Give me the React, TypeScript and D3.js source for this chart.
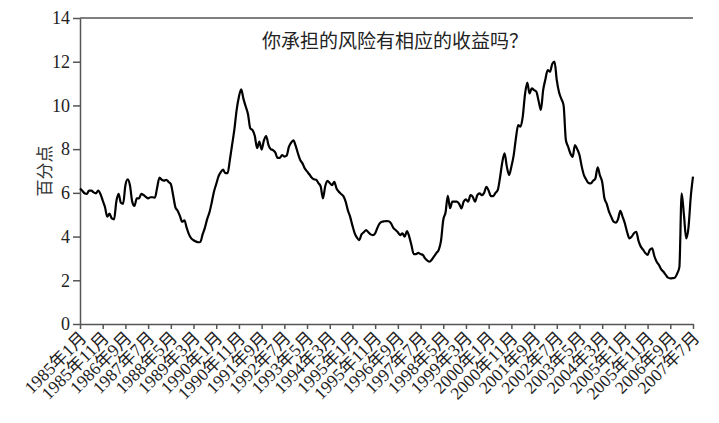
import { useEffect, useRef } from 'react';
import * as d3 from 'd3';

// monthly values, 1985年1月 .. 2007年7月 (percentage points)
const startYear = 1985;
const spread = [
  // 1985
  6.2, 6.1, 5.98, 5.95, 6.1, 6.1, 6.02, 5.98, 6.1, 5.95, 5.65, 5.35,
  // 1986
  4.91, 5.05, 4.83, 4.79, 5.6, 5.95, 5.55, 5.5, 6.35, 6.62, 6.35, 5.6,
  // 1987
  5.4, 5.75, 5.75, 5.95, 5.9, 5.82, 5.75, 5.8, 5.8, 5.78, 6.25, 6.7,
  // 1988
  6.6, 6.56, 6.6, 6.5, 6.4, 5.9, 5.35, 5.18, 4.95, 4.68, 4.74, 4.4,
  // 1989
  4.1, 3.92, 3.83, 3.78, 3.74, 3.75, 4.1, 4.4, 4.8, 5.1, 5.55, 6.05,
  // 1990
  6.4, 6.75, 6.95, 7.06, 6.9, 6.9, 7.5, 8.2, 8.9, 9.8, 10.4, 10.74,
  // 1991
  10.3, 9.95, 9.6, 8.95, 8.87, 8.6, 8.05, 8.34, 7.98, 8.4, 8.6, 8.2,
  // 1992
  8.0, 7.96, 7.85, 7.6, 7.6, 7.73, 7.66, 7.7, 8.1, 8.3, 8.4, 8.15,
  // 1993
  7.8, 7.5, 7.35, 7.12, 6.98, 6.85, 6.7, 6.62, 6.6, 6.45, 6.3, 5.75,
  // 1994
  6.3, 6.55, 6.45, 6.35, 6.5, 6.2, 6.05, 5.95, 5.85, 5.6, 5.2, 4.9,
  // 1995
  4.5, 4.15, 3.95, 3.84, 4.1, 4.2, 4.3, 4.2, 4.1, 4.07, 4.15, 4.4,
  // 1996
  4.6, 4.68, 4.7, 4.71, 4.7, 4.6, 4.4, 4.3, 4.2, 4.07, 4.15, 4.0,
  // 1997
  4.25, 4.0, 3.6, 3.2, 3.2, 3.25, 3.2, 3.16, 3.0, 2.9, 2.85, 2.95,
  // 1998
  3.1, 3.25, 3.39, 3.8, 4.76, 5.1, 5.86, 5.3, 5.6, 5.6, 5.6, 5.5,
  // 1999
  5.29, 5.6, 5.7, 5.6, 5.9, 5.82, 5.6, 5.9, 5.98, 5.9, 6.0, 6.28,
  // 2000
  6.1, 5.85, 5.85, 6.0, 6.13, 6.7, 7.4, 7.81, 7.2, 6.82, 7.2, 7.7,
  // 2001
  8.5, 9.1, 9.03, 9.48, 10.5, 11.04, 10.55, 10.78, 10.7, 10.63, 10.2, 9.79,
  // 2002
  10.7, 11.2, 11.62, 11.54, 11.9, 12.0, 11.16, 10.6, 10.3, 10.0, 8.42, 8.11,
  // 2003
  7.8, 7.65, 8.19, 8.0, 7.73, 7.2, 6.8, 6.6, 6.45, 6.43, 6.55, 6.66,
  // 2004
  7.17, 6.8, 6.5, 5.75, 5.5, 5.14, 4.9, 4.68, 4.64, 4.8, 5.18, 4.9,
  // 2005
  4.6, 4.2, 3.92, 4.0, 4.15, 4.22, 3.8, 3.54, 3.4, 3.25, 3.16, 3.4,
  // 2006
  3.46, 3.1, 2.85, 2.7, 2.5, 2.39, 2.25, 2.12, 2.09, 2.1, 2.12, 2.3,
  // 2007
  2.6, 5.98, 5.0, 3.92, 4.4, 5.8, 6.74,
];

const tickLabels = [
  '1985年1月', '1985年11月', '1986年9月', '1987年7月', '1988年5月', '1989年3月',
  '1990年1月', '1990年11月', '1991年9月', '1992年7月', '1993年5月', '1994年3月',
  '1995年1月', '1995年11月', '1996年9月', '1997年7月', '1998年5月', '1999年3月',
  '2000年1月', '2000年11月', '2001年9月', '2002年7月', '2003年5月', '2004年3月',
  '2005年1月', '2005年11月', '2006年9月', '2007年7月',
];

const yTicks = [0, 2, 4, 6, 8, 10, 12, 14];
const title = '你承担的风险有相应的收益吗？';
const yLabel = '百分点';

// month offset from Jan of startYear for a label like 1990年11月
function labelMonth(label: string) {
  const [y, m] = label.replace('月', '').split('年').map(Number);
  return (y - startYear) * 12 + (m - 1);
}

export default function App() {
  const svgRef = useRef<SVGSVGElement>(null);

  useEffect(() => {
    if (!svgRef.current) return;
    const svg = d3.select(svgRef.current);
    svg.selectAll('*').remove();

    const W = 719;
    const H = 423;
    const margin = { top: 18, right: 26, bottom: 99, left: 80 };
    const numFont = '"Liberation Serif", "DejaVu Serif", "Noto Sans CJK SC", serif';
    const cjkFont = '"Noto Sans CJK SC", sans-serif';
    const axisColor = '#555';

    const x = d3.scaleLinear()
      .domain([0, spread.length - 1])
      .range([margin.left, W - margin.right]);
    const y = d3.scaleLinear()
      .domain([0, 14])
      .range([H - margin.bottom, margin.top]);

    // top frame line
    svg.append('line')
      .attr('x1', x(0)).attr('x2', x(spread.length - 1))
      .attr('y1', y(14)).attr('y2', y(14))
      .attr('stroke', axisColor).attr('stroke-width', 1.5);

    // y axis
    const yAxis = svg.append('g')
      .attr('transform', `translate(${margin.left},0)`)
      .call(d3.axisLeft(y).tickValues(yTicks).tickSize(7).tickSizeOuter(0).tickPadding(3));
    yAxis.select('.domain').attr('stroke', axisColor).attr('stroke-width', 1.5);
    yAxis.selectAll('.tick line').attr('stroke', axisColor).attr('stroke-width', 1.5);
    yAxis.selectAll('.tick text')
      .style('font-family', numFont)
      .style('font-size', '18px')
      .attr('fill', '#222');

    // x axis
    const xAxis = svg.append('g')
      .attr('transform', `translate(0,${H - margin.bottom})`)
      .call(d3.axisBottom(x)
        .tickValues(tickLabels.map(labelMonth))
        .tickFormat((d, i) => tickLabels[i])
        .tickSize(5)
        .tickSizeOuter(0));
    xAxis.select('.domain').attr('stroke', axisColor).attr('stroke-width', 1.5);
    xAxis.selectAll('.tick line').attr('stroke', axisColor).attr('stroke-width', 1.5);
    xAxis.selectAll('.tick text')
      .style('font-family', numFont)
      .style('font-size', '17.5px')
      .attr('fill', '#222')
      .style('text-anchor', 'end')
      .attr('x', 0)
      .attr('y', 0)
      .attr('dy', '0')
      .attr('transform', 'translate(7,15) rotate(-45)');

    // line
    const line = d3.line<number>()
      .x((d, i) => x(i))
      .y(d => y(d))
      .curve(d3.curveMonotoneX);
    svg.append('path')
      .datum(spread)
      .attr('d', line)
      .attr('fill', 'none')
      .attr('stroke', '#000')
      .attr('stroke-width', 2.2)
      .attr('stroke-linejoin', 'round');

    // title
    svg.append('text')
      .attr('x', 395)
      .attr('y', 48)
      .attr('text-anchor', 'middle')
      .style('font-family', cjkFont)
      .style('font-size', '19px')
      .attr('fill', '#222')
      .text(title);

    // y label
    svg.append('text')
      .attr('transform', `translate(51,${y(7)}) rotate(-90)`)
      .attr('text-anchor', 'middle')
      .style('font-family', cjkFont)
      .style('font-size', '17px')
      .attr('fill', '#333')
      .text(yLabel);
  }, []);

  return (
    <svg
      ref={svgRef}
      width={719}
      height={423}
      style={{ position: 'absolute', left: 0, top: 0, background: '#fff' }}
    />
  );
}
